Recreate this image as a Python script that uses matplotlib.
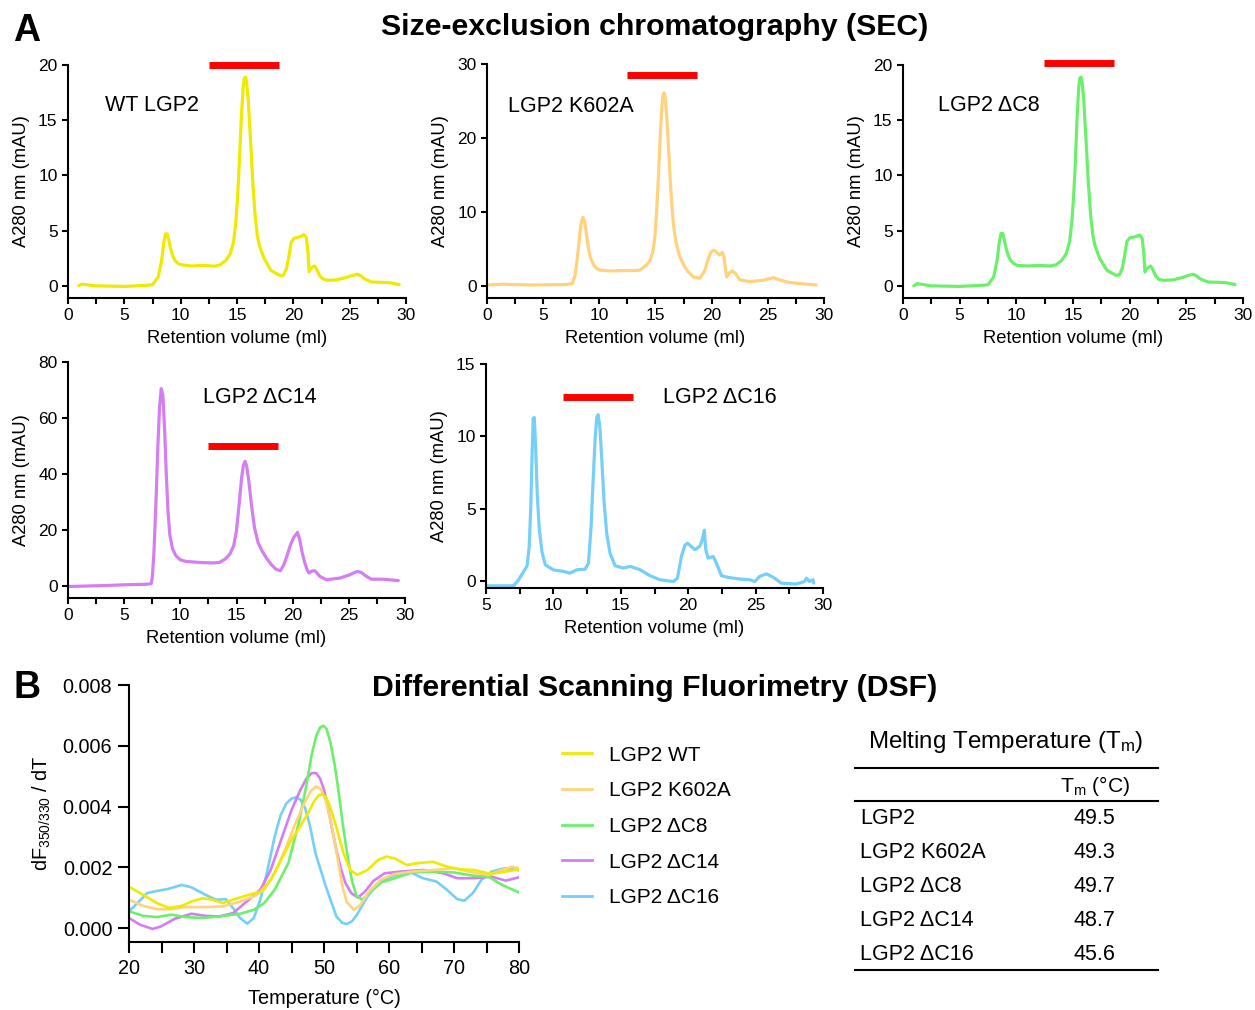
import numpy as np
import matplotlib
matplotlib.use('Agg')
import matplotlib.pyplot as plt
from matplotlib.lines import Line2D

plt.rcParams['font.family'] = ['Liberation Sans', 'DejaVu Sans']
plt.rcParams['mathtext.default'] = 'regular'

## SEC traces (retention volume ml, A280 mAU)
wt_x = [0.95, 1.2, 2.5, 5.0, 7.0, 7.5, 8.0, 8.3, 8.5, 8.65, 8.8, 8.95, 9.1, 9.3, 9.5, 9.8, 10.1, 11.0, 12.0, 13.0,
        13.5, 14.0, 14.4, 14.7, 14.9, 15.05, 15.2, 15.4, 15.55, 15.65, 15.75, 15.85, 16.0, 16.2, 16.4, 16.6, 16.8,
        17.0, 17.4, 18.0, 18.86, 19.15, 19.4, 19.6, 19.8, 20.05, 20.6, 20.95, 21.15, 21.3, 21.4, 21.55, 21.7, 21.9,
        22.1, 22.35, 22.6, 23.0, 23.9, 24.8, 25.3, 25.7, 26.0, 26.3, 26.9, 28.4, 29.4]
wt_y = [0.0, 0.15, 0.0, -0.05, 0.05, 0.1, 0.8, 2.2, 3.9, 4.7, 4.7, 4.1, 3.4, 2.7, 2.3, 2.0, 1.9, 1.8, 1.85, 1.78,
        1.9, 2.3, 2.9, 4.0, 5.8, 8.0, 11.0, 15.5, 18.0, 18.8, 18.9, 18.5, 16.8, 13.2, 9.4, 6.5, 4.6,
        3.6, 2.5, 1.4, 0.9, 1.0, 1.6, 2.6, 3.9, 4.3, 4.45, 4.65, 4.4, 3.0, 1.3, 1.55, 1.7, 1.8,
        1.45, 0.9, 0.65, 0.5, 0.55, 0.8, 0.95, 1.05, 0.9, 0.65, 0.35, 0.3, 0.12]

k602a_x = [0.0, 1.5, 4.0, 7.0, 7.6, 7.85, 8.05, 8.25, 8.4, 8.55, 8.7, 8.85, 9.0, 9.2, 9.5, 9.8, 10.1, 11.0, 12.0, 13.0,
           13.6, 14.2, 14.5, 14.75, 14.95, 15.1, 15.25, 15.4, 15.55, 15.65, 15.75, 15.85, 16.0, 16.2, 16.4, 16.6,
           16.8, 17.1, 17.5, 17.9, 18.36, 18.95, 19.4, 19.7, 19.95, 20.2, 20.45, 20.7, 20.96, 21.1, 21.25, 21.35,
           21.55, 21.8, 22.1, 22.5, 23.4, 24.6, 25.5, 26.1, 26.9, 27.8, 29.3]
k602a_y = [0.1, 0.2, 0.1, 0.15, 0.3, 1.5, 3.8, 6.9, 8.6, 9.25, 8.6, 7.0, 5.3, 3.8, 2.8, 2.3, 2.1, 2.0, 2.05, 2.05,
           2.1, 2.8, 3.4, 4.5, 6.6, 10.0, 14.5, 19.5, 23.8, 25.6, 26.1, 25.6, 23.0, 17.5, 12.0, 8.2,
           6.0, 4.2, 2.8, 1.9, 1.2, 1.0, 2.1, 3.7, 4.6, 4.8, 4.55, 4.15, 4.5, 3.9, 2.0, 1.2,
           1.7, 2.0, 1.7, 0.8, 0.55, 0.75, 1.1, 0.75, 0.45, 0.3, 0.1]

dc8_x = [0.95, 1.25, 2.5, 5.0, 7.0, 7.5, 8.0, 8.3, 8.5, 8.65, 8.8, 8.95, 9.1, 9.3, 9.5, 9.8, 10.1, 11.0, 12.0, 13.0,
         13.5, 14.0, 14.4, 14.7, 14.9, 15.05, 15.2, 15.35, 15.5, 15.6, 15.7, 15.8, 15.95, 16.15, 16.35, 16.55, 16.75,
         16.95, 17.35, 18.0, 18.8, 19.1, 19.35, 19.55, 19.75, 20.0, 20.5, 20.9, 21.1, 21.25, 21.35, 21.5, 21.65, 21.85,
         22.05, 22.3, 22.55, 23.0, 23.9, 24.8, 25.2, 25.6, 25.9, 26.2, 26.9, 28.4, 29.3]
dc8_y = [0.0, 0.2, 0.0, -0.05, 0.05, 0.1, 0.8, 2.3, 4.0, 4.75, 4.75, 4.1, 3.4, 2.7, 2.3, 2.0, 1.85, 1.8, 1.85, 1.8,
         1.9, 2.3, 2.9, 4.0, 5.8, 8.0, 11.0, 15.0, 17.9, 18.8, 18.9, 18.5, 16.8, 13.2, 9.4, 6.5, 4.6,
         3.6, 2.5, 1.4, 0.95, 1.0, 1.6, 2.7, 4.0, 4.35, 4.45, 4.6, 4.3, 2.9, 1.25, 1.55, 1.65, 1.8,
         1.45, 0.9, 0.6, 0.5, 0.55, 0.8, 0.95, 1.05, 0.9, 0.65, 0.35, 0.3, 0.12]

dc14_x = [0.0, 3.0, 5.0, 7.0, 7.4, 7.5, 7.65, 7.85, 8.0, 8.15, 8.3, 8.45, 8.6, 8.75, 8.9, 9.06, 9.3, 9.6, 10.0, 10.54,
          12.0, 13.0, 13.5, 14.0, 14.4, 14.75, 15.0, 15.25, 15.45, 15.6, 15.75, 15.9, 16.1, 16.35, 16.6, 16.93, 17.3,
          17.67, 18.1, 18.5, 18.9, 19.2, 19.5, 19.8, 20.1, 20.43, 20.64, 20.85, 21.09, 21.3, 21.47, 21.7, 21.98,
          22.2, 22.42, 23.0, 24.2, 25.1, 25.5, 25.78, 26.1, 26.5, 27.0, 28.07, 29.4]
dc14_y = [0.0, 0.3, 0.6, 0.8, 1.0, 3.0, 12.0, 32.0, 50.0, 64.0, 70.5, 68.0, 56.0, 40.0, 27.0, 18.5, 13.5, 11.0, 9.5, 8.9,
          8.5, 8.4, 8.6, 9.8, 11.5, 14.5, 20.0, 30.0, 38.5, 43.0, 44.6, 43.0, 37.5, 28.5, 21.0, 15.5, 12.5,
          10.1, 7.8, 6.2, 5.6, 7.6, 11.0, 14.8, 17.5, 19.3, 16.5, 12.0, 8.3, 5.8, 4.8, 5.5, 5.6,
          4.6, 3.6, 2.4, 3.0, 4.2, 5.0, 5.35, 5.0, 3.8, 2.6, 2.6, 2.1]

dc16_x = [5.0, 7.05, 7.42, 7.8, 8.04, 8.2, 8.32, 8.42, 8.5, 8.58, 8.68, 8.8, 8.95, 9.15, 9.4, 10.0, 10.75, 11.24,
          11.74, 12.35, 12.6, 12.8, 12.95, 13.1, 13.22, 13.32, 13.45, 13.6, 13.75, 13.95, 14.2, 14.58, 15.2, 15.7,
          16.43, 17.17, 17.9, 18.9, 19.2, 19.5, 19.75, 19.95, 20.13, 20.5, 20.87, 21.04, 21.2, 21.3, 21.48, 21.86,
          22.1, 22.47, 22.97, 23.83, 24.57, 24.94, 25.3, 25.8, 26.3, 26.9, 28.0, 28.64, 28.77, 29.0, 29.26, 29.3]
dc16_y = [-0.35, -0.35, 0.07, 0.65, 1.0, 2.3, 5.0, 8.8, 11.2, 11.3, 9.3, 6.0, 3.6, 2.0, 1.1, 0.75, 0.65, 0.53,
          0.76, 0.8, 1.2, 3.8, 7.0, 9.9, 11.3, 11.5, 10.6, 8.2, 5.6, 3.3, 1.9, 1.04, 0.88, 1.0,
          0.76, 0.35, 0.07, -0.05, 0.18, 1.7, 2.45, 2.6, 2.45, 2.15, 2.4, 2.83, 3.5, 2.15, 1.57, 1.68,
          1.2, 0.35, 0.23, 0.12, 0.07, -0.05, 0.3, 0.48, 0.25, -0.16, -0.23, -0.05, 0.18, -0.05, 0.07, -0.16]

## DSF first derivative (temperature C, dF/dT)
t_wt = [20, 22.2, 24.3, 26.2, 28.1, 29.6, 31.3, 32.9, 34.4, 36.0, 38.1, 40.2, 41.8, 43.4, 45.0, 46.6, 47.6, 48.5,
        49.2, 49.8, 50.4, 51.0, 51.9, 53.0, 54.05, 55.1, 56.7, 58.3, 59.6, 60.9, 62.8, 64.1, 66.8, 68.9, 71.0, 73.1,
        75.3, 76.3, 77.95, 80]
d_wt = [0.00136, 0.00109, 0.00082, 0.00066, 0.00073, 0.00087, 0.00098, 0.00093, 0.00082, 0.00093, 0.00107, 0.0012,
        0.00158, 0.00224, 0.0029, 0.00344, 0.0038, 0.00418, 0.00437, 0.0044, 0.00428, 0.00395, 0.00333, 0.00246,
        0.00191, 0.00175, 0.00191, 0.00224, 0.00235, 0.00229, 0.00207, 0.00213, 0.00218, 0.00202, 0.00193, 0.00191,
        0.0018, 0.0018, 0.00186, 0.00193]

t_k602a = [20, 22.2, 24.3, 26.5, 28.6, 31.8, 34.4, 37.1, 39.2, 40.8, 42.4, 44.0, 45.6, 47.0, 48.0, 48.8, 49.5, 50.2,
           50.9, 51.6, 52.2, 52.8, 53.5, 54.6, 55.6, 56.9, 58.8, 60.9, 63.6, 66.8, 69.9, 73.1, 75.3, 77.4, 78.9, 80]
d_k602a = [0.00093, 0.00073, 0.00062, 0.00062, 0.00069, 0.00069, 0.00071, 0.00087, 0.00104, 0.00126, 0.0018, 0.00257,
           0.00344, 0.00412, 0.00452, 0.00466, 0.00458, 0.00425, 0.00365, 0.0029, 0.00215, 0.0014, 0.00085, 0.0006,
           0.00076, 0.0012, 0.0016, 0.00178, 0.00186, 0.00191, 0.00197, 0.00182, 0.00175, 0.00191, 0.00202, 0.00197]

t_dc8 = [20, 22.2, 24.3, 26.5, 28.6, 31.3, 33.9, 37.1, 39.2, 40.8, 42.4, 44.5, 46.1, 47.2, 48.1, 48.8, 49.4, 49.9,
         50.4, 51.0, 51.7, 52.3, 52.9, 53.6, 54.3, 55.0, 55.9, 57.2, 58.8, 60.9, 63.6, 66.8, 69.9, 73.1, 75.3, 77.4,
         80]
d_dc8 = [0.00055, 0.0004, 0.00036, 0.00044, 0.00036, 0.00033, 0.00038, 0.00047, 0.0006, 0.00082, 0.00126, 0.00213,
         0.00344, 0.0046, 0.0057, 0.00632, 0.0066, 0.00666, 0.00655, 0.0061, 0.0053, 0.0044, 0.0034, 0.0024,
         0.00155, 0.00105, 0.00093, 0.0012, 0.0015, 0.00164, 0.00183, 0.00186, 0.00183, 0.00172, 0.00169, 0.00142,
         0.00117]

t_dc14 = [20, 21.7, 23.6, 24.9, 27.0, 29.6, 31.8, 33.9, 36.0, 38.1, 40.2, 41.8, 43.4, 45.0, 46.3, 47.3, 48.1, 48.8,
          49.4, 50.0, 50.6, 51.3, 51.9, 52.6, 53.3, 54.2, 55.2, 56.3, 57.6, 59.3, 61.9, 65.2, 68.4, 70.5, 73.1, 75.8,
          77.95, 80]
d_dc14 = [0.00033, 0.00011, -0.00003, 0.00005, 0.0003, 0.00047, 0.0004, 0.00038, 0.00049, 0.00087, 0.00126, 0.00191,
          0.0029, 0.00388, 0.00452, 0.00492, 0.0051, 0.0051, 0.00492, 0.00455, 0.00398, 0.0032, 0.00257, 0.00195,
          0.00148, 0.00115, 0.001, 0.0012, 0.00155, 0.0018, 0.00186, 0.00191, 0.0018, 0.00164, 0.00164, 0.00169,
          0.00156, 0.00167]

t_dc16 = [20, 21.2, 22.8, 24.3, 25.9, 28.1, 29.6, 31.8, 33.4, 34.9, 36.0, 37.1, 38.2, 39.2, 40.2, 41.3, 42.4, 43.3,
          44.2, 45.0, 45.7, 46.4, 47.1, 47.8, 48.7, 50.3, 51.9, 52.8, 53.5, 54.3, 55.1, 56.7, 58.3, 60.4, 63.1, 65.2,
          67.3, 68.9, 70.5, 71.6, 72.9, 74.2, 75.8, 77.95, 80]
d_dc16 = [0.00055, 0.0008, 0.00115, 0.00122, 0.00128, 0.00142, 0.00134, 0.00109, 0.00093, 0.00095, 0.00066, 0.00033,
          0.00014, 0.00033, 0.00093, 0.0019, 0.003, 0.0037, 0.0041, 0.00426, 0.0043, 0.00422, 0.00395, 0.0034,
          0.00245, 0.00136, 0.00038, 0.00017, 0.00013, 0.00022, 0.00045, 0.00104, 0.00147, 0.0017, 0.00186, 0.00164,
          0.00153, 0.00126, 0.00095, 0.0009, 0.00115, 0.00158, 0.00186, 0.00197, 0.0019]

dsf_labels = ['LGP2 WT', 'LGP2 K602A', 'LGP2 ΔC8', 'LGP2 ΔC14', 'LGP2 ΔC16']
tm_names = ['LGP2', 'LGP2 K602A', 'LGP2 ΔC8', 'LGP2 ΔC14', 'LGP2 ΔC16']
tm_values = ['49.5', '49.3', '49.7', '48.7', '45.6']

c_wt = '#EEEA00'
c_k602a = '#FFD27E'
c_dc8 = '#6CF06C'
c_dc14 = '#D47EF2'
c_dc16 = '#76CFF8'

W, H = 1255, 1010
fig = plt.figure(figsize=(W / 100, H / 100), dpi=100)


def px_axes(l, r, t, b):
    return fig.add_axes([l / W, 1 - b / H, (r - l) / W, (b - t) / H])


def style(ax, fs, tl, pad):
    ax.spines['top'].set_visible(False)
    ax.spines['right'].set_visible(False)
    for s in ['left', 'bottom']:
        ax.spines[s].set_linewidth(1.5)
    ax.tick_params(which='major', direction='out', length=tl, width=1.5, labelsize=fs, pad=pad)
    ax.tick_params(which='minor', direction='out', length=tl, width=1.5)


def sec_panel(box, x, y, color, ymax, ystep, ybot, label, lab_xy, bar, xmin=0):
    ax = px_axes(*box)
    ax.plot(x, y, color=color, lw=2.3, solid_joinstyle='round', solid_capstyle='round')
    ax.set_xlim(xmin, 30)
    ax.set_ylim(ybot, ymax)
    ax.set_xticks(np.arange(xmin, 31, 5))
    ax.set_xticks(np.arange(xmin, 30.1, 2.5), minor=True)
    ax.set_yticks(np.arange(0, ymax + 0.1, ystep))
    style(ax, 12.5, 4.5, 3)
    ax.set_xlabel('Retention volume (ml)', fontsize=13.2, labelpad=5)
    ax.set_ylabel('A280 nm (mAU)', fontsize=13.2, labelpad=6)
    ax.hlines(bar[2], bar[0], bar[1], color='#FF0000', lw=5, clip_on=False)
    ax.text(lab_xy[0], lab_xy[1], label, fontsize=15.5, ha='left', va='center')
    return ax


sec_panel((68, 406, 65, 298), wt_x, wt_y, c_wt, 20, 5, -1.1, 'WT LGP2', (3.3, 16.3), (12.5, 18.7, 20))
sec_panel((487, 824, 64, 298), k602a_x, k602a_y, c_k602a, 30, 10, -1.66, 'LGP2 K602A', (1.9, 24.3), (12.5, 18.7, 28.5))
sec_panel((903, 1243, 65, 298), dc8_x, dc8_y, c_dc8, 20, 5, -1.1, 'LGP2 ΔC8', (3.1, 16.3), (12.4, 18.6, 20.2))
sec_panel((68, 405, 362, 598), dc14_x, dc14_y, c_dc14, 80, 20, -4.1, 'LGP2 ΔC14', (12.0, 67.3), (12.5, 18.7, 50))
sec_panel((486, 823, 364, 588), dc16_x, dc16_y, c_dc16, 15, 5, -0.5, 'LGP2 ΔC16', (18.1, 12.65), (10.7, 15.9, 12.7),
          xmin=5)

# DSF
ax = px_axes(129, 519, 685, 942)
series = [(t_wt, d_wt, c_wt), (t_k602a, d_k602a, c_k602a), (t_dc8, d_dc8, c_dc8),
          (t_dc14, d_dc14, c_dc14), (t_dc16, d_dc16, c_dc16)]
# blue at the back, yellow on top
for t, d, c in series[::-1]:
    ax.plot(t, d, color=c, lw=1.9, solid_joinstyle='round')
ax.set_xlim(20, 80)
ax.set_ylim(-0.00046, 0.008)
ax.set_xticks(np.arange(20, 81, 10))
ax.set_xticks(np.arange(20, 81, 5), minor=True)
ax.set_yticks(np.arange(0, 0.0081, 0.002))
ax.yaxis.set_major_formatter(matplotlib.ticker.FormatStrFormatter('%.3f'))
style(ax, 14.3, 8, 4)
ax.set_xlabel('Temperature (°C)', fontsize=14.3, labelpad=8)
ax.set_ylabel('dF$_{350/330}$ / dT', fontsize=14.3, labelpad=7)

handles = [Line2D([], [], color=c, lw=2) for _, _, c in series]
fig.legend(handles, dsf_labels, loc='upper left', bbox_to_anchor=(543 / W, 1 - 727 / H), frameon=False,
           fontsize=15, handlelength=1.45, handletextpad=0.8, labelspacing=0.8)

# Tm table
fig.text(1006 / W, 1 - 742 / H, 'Melting Temperature (T$_{m}$)', fontsize=17.4, ha='center', va='center')
fig.text(1095 / W, 1 - 786 / H, 'T$_{m}$ (°C)', fontsize=15.2, ha='center', va='center')
for yl in [768, 801, 970]:
    fig.add_artist(Line2D([855 / W, 1158 / W], [1 - yl / H, 1 - yl / H], color='black', lw=1.5))
row_y = [819, 853, 887, 920, 954]
for nm, v, yy in zip(tm_names, tm_values, row_y):
    fig.text(860 / W, 1 - yy / H, nm, fontsize=15.5, ha='left', va='center')
    fig.text(1094 / W, 1 - yy / H, v, fontsize=15.5, ha='center', va='center')

# titles and panel letters
fig.text(655 / W, 1 - 27 / H, 'Size-exclusion chromatography (SEC)', fontsize=21.8, fontweight='bold',
         ha='center', va='center')
fig.text(655 / W, 1 - 688 / H, 'Differential Scanning Fluorimetry (DSF)', fontsize=21.8, fontweight='bold',
         ha='center', va='center')
fig.text(27 / W, 1 - 31 / H, 'A', fontsize=27, fontweight='bold', ha='center', va='center')
fig.text(27 / W, 1 - 688 / H, 'B', fontsize=27, fontweight='bold', ha='center', va='center')

fig.savefig('out.png', dpi=100)
